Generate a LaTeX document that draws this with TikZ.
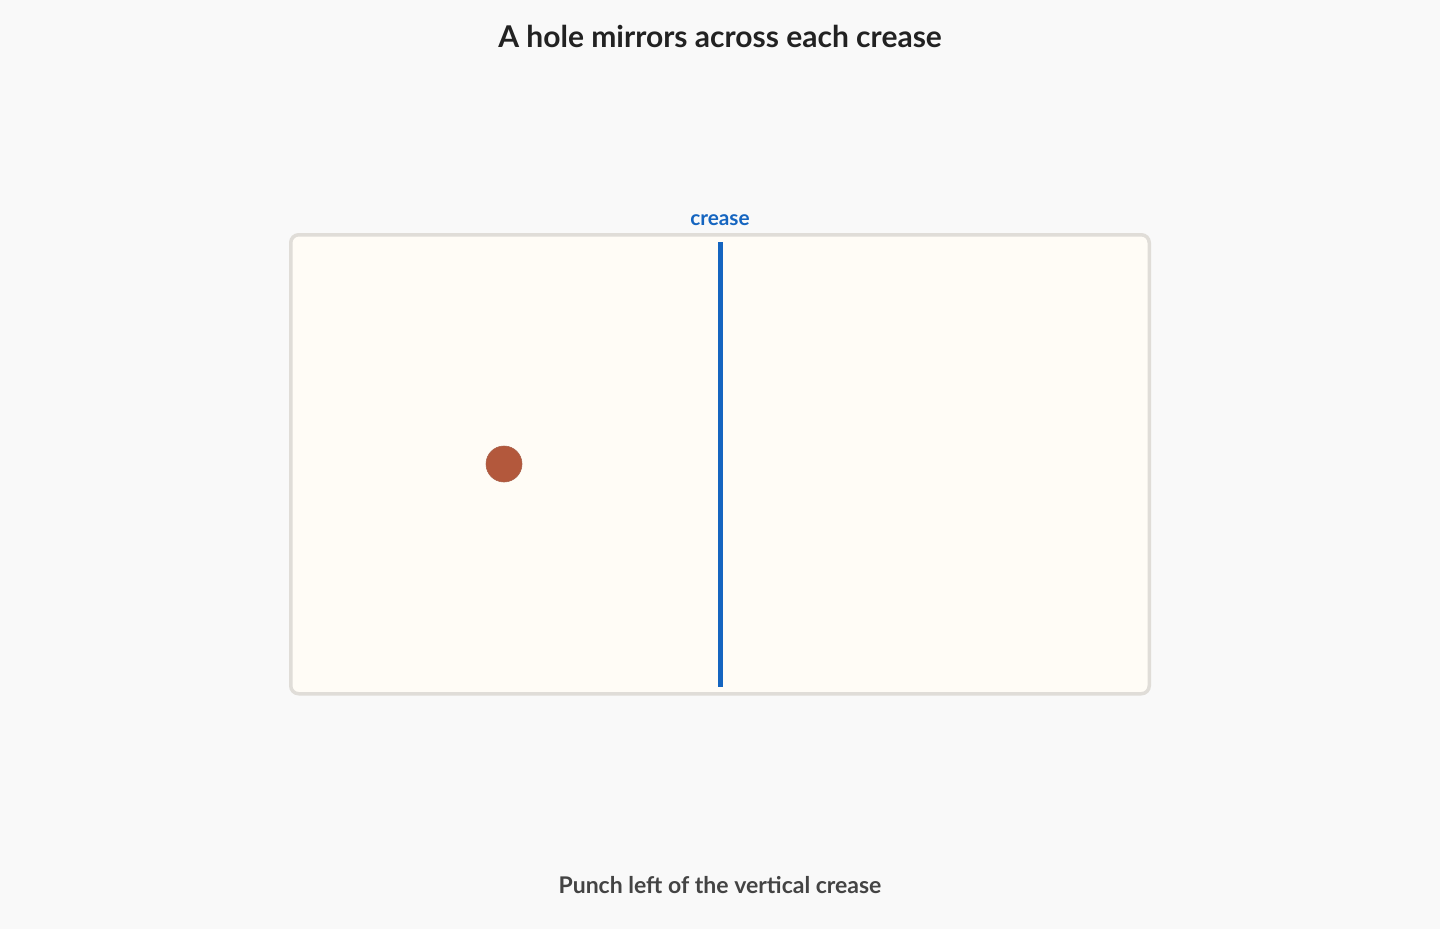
\documentclass[tikz,border=0pt]{standalone}
\usepackage{fontspec}
\setmainfont{Lato}
\definecolor{bg}{HTML}{F9F9F9}
\definecolor{paper}{HTML}{FFFCF6}
\definecolor{paperedge}{HTML}{E0DDD8}
\definecolor{creaseblue}{HTML}{1565C0}
\definecolor{holecol}{HTML}{B3583C}
\definecolor{titlecol}{HTML}{222222}
\definecolor{captioncol}{HTML}{444444}
\tikzset{
  sheet/.style={draw=paperedge, line width=3.5pt, fill=paper, rounded corners=8pt},
  creaseline/.style={draw=creaseblue, line width=5pt},
  hole/.style={circle, fill=holecol, draw=holecol!80!gray, line width=0.6pt, minimum size=36pt, inner sep=0pt},
  titletext/.style={font=\bfseries\fontsize{30}{34}\selectfont, text=titlecol},
  labeltext/.style={font=\bfseries\fontsize{20.8}{24}\selectfont, text=creaseblue},
  captiontext/.style={font=\bfseries\fontsize{23}{27}\selectfont, text=captioncol}
}
\begin{document}
\begin{tikzpicture}[x=1pt,y=-1pt]
\fill[bg] (0,0) rectangle (1440,929);
\useasboundingbox (0,0) rectangle (1440,929);
\node[titletext] (title) at (720,36) {A hole mirrors across each crease};
\draw[sheet] (290.75,234.75) rectangle (1149.25,693.75);
\coordinate (ctop) at (720,242);
\coordinate (cbot) at (720,687);
\draw[creaseline] (ctop) -- (cbot);
\node[labeltext] (clabel) at (720,220.5) {crease};
\node[hole] (hole) at (504,464) {};
\node[captiontext] (caption) at (720,885) {Punch left of the vertical crease};
\end{tikzpicture}
\end{document}
